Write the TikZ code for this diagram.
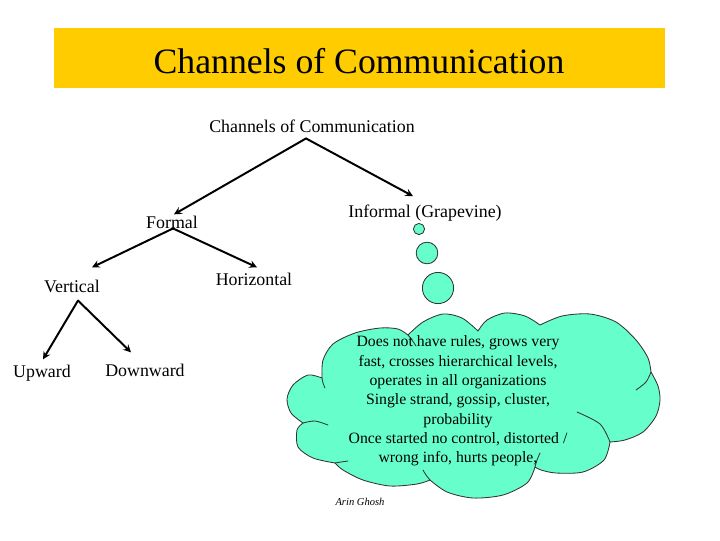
\documentclass[tikz,border=0pt]{standalone}
\usepackage{fontspec}
\setmainfont{Liberation Serif}
\usetikzlibrary{calc}
\definecolor{banner}{HTML}{FFCC00}
\definecolor{aqua}{HTML}{66FFCC}
\begin{document}
\begin{tikzpicture}[x=0.025cm,y=-0.025cm,>=stealth,line join=round,line cap=round,
	lbl/.style={inner sep=0pt,anchor=base,font=\fontsize{12.7}{15}\selectfont},
	arr/.style={->,line width=1.4pt},
	bubble/.style={draw=black!80,fill=aqua,line width=0.6pt}]
	\useasboundingbox (0,0) rectangle (720,540);
	% bang tieu de
	\fill[banner] (54,28) rectangle (665,88);
	\node (title) at (359,61) {\fontsize{25.4}{30}\selectfont Channels of Communication};
	% cac nhan cua cay
	\node[lbl] (root) at (312,132) {Channels of Communication};
	\node[lbl] (formal) at (172,228) {Formal};
	\node[lbl] (informal) at (425,217) {Informal (Grapevine)};
	\node[lbl] (horizontal) at (254,285) {Horizontal};
	\node[lbl] (vertical) at (72,292) {Vertical};
	\node[lbl] (upward) at (42,377) {Upward};
	\node[lbl] (downward) at (145,376) {Downward};
	% cac mui ten
	\draw[arr] ($(root.south)+(-6,6)$) -- ($(formal.north)+(2,-1)$);
	\draw[arr] ($(root.south)+(-6,6)$) -- ($(informal.north)+(-12,-8)$);
	\draw[arr] ($(formal.south)+(1,0)$) -- ($(vertical.north)+(20,-12)$);
	\draw[arr] ($(formal.south)+(1,0)$) -- ($(horizontal.north)+(3,-5)$);
	\draw[arr] ($(vertical.south)+(6,8)$) -- ($(upward.north)+(1,-5)$);
	\draw[arr] ($(vertical.south)+(6,8)$) -- ($(downward.north)+(-14,-11)$);
	% cac bong nho
	\draw[bubble] (419,229) circle (0.14cm);
	\draw[bubble] (427,253) circle (0.27cm);
	\draw[bubble] (438,288) circle (0.39cm);
	% dam may: vien ngoai
	\draw[bubble] (303,423)
		-- plot[smooth] coordinates {(303,423) (291,413) (287,399) (293,385) (308,375) (322,378)}
		-- plot[smooth] coordinates {(322,378) (323,360) (333,344) (355,333) (380,328) (398,329) (408,335)}
		-- plot[smooth] coordinates {(408,335) (423,322) (443,314) (462,318) (478,331)}
		-- plot[smooth] coordinates {(478,331) (487,320) (505,313) (525,316) (540,325)}
		-- plot[smooth] coordinates {(540,325) (562,316) (590,314) (616,322) (636,340) (648,358) (651,372)}
		-- plot[smooth] coordinates {(651,372) (658,386) (660,400) (656,416) (643,432) (625,440) (610,442)}
		-- plot[smooth] coordinates {(610,442) (604,460) (583,472) (556,473) (541,470) (535,467)}
		-- plot[smooth] coordinates {(535,467) (527,483) (503,495) (473,498) (447,492) (430,480)}
		-- plot[smooth] coordinates {(430,480) (417,484) (390,486) (363,480) (343,470) (335,463)}
		-- plot[smooth] coordinates {(335,463) (313,458) (298,447) (297,430) (303,423)} -- cycle;
	% dam may: cac cung ben trong
	\draw[black!80,line width=0.6pt]
		plot[smooth] coordinates {(303,423) (315,421) (328,425)}
		plot[smooth] coordinates {(322,378) (323,383) (325,388)}
		plot[smooth] coordinates {(408,335) (412,340) (416,346)}
		plot[smooth] coordinates {(651,372) (646,382) (636,390)}
		plot[smooth] coordinates {(610,442) (600,424) (577,412)}
		plot[smooth] coordinates {(535,467) (537,460) (540,453)}
		plot[smooth] coordinates {(430,480) (426,475) (423,470)}
		plot[smooth] coordinates {(335,463) (341,462) (348,461)};
	\node[align=center,inner sep=0pt,font=\fontsize{11.2}{13.7}\selectfont] (note) at (458,401)
		{Does not have rules, grows very\\fast, crosses hierarchical levels,\\operates in all organizations\\Single strand, gossip, cluster,\\probability\\Once started no control, distorted /\\wrong info, hurts people,};
	\node[font=\fontsize{7.5}{9}\selectfont\itshape] (author) at (360,502) {Arin Ghosh};
\end{tikzpicture}
\end{document}
